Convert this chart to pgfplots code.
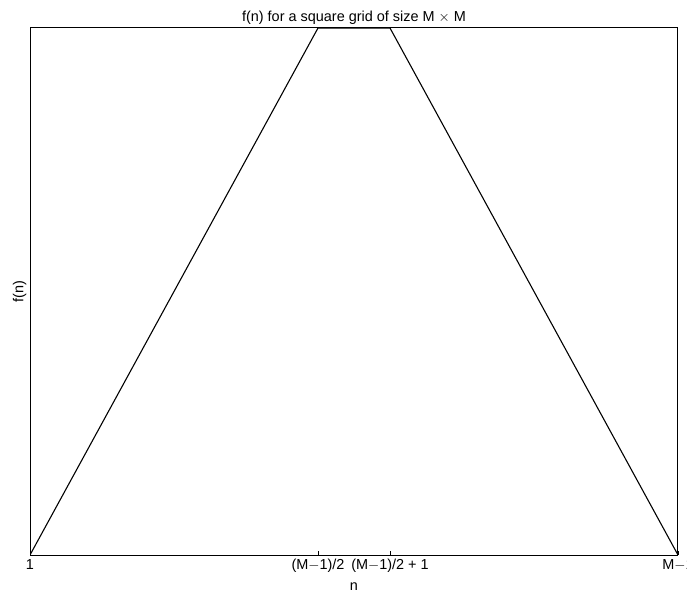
\documentclass[border=0pt]{standalone}
\usepackage{pgfplots}
\pgfplotsset{compat=1.18}
\usepackage{fontspec}
\setmainfont{Liberation Sans}
\begin{document}
\begin{tikzpicture}
% fixed page frame; the last tick label runs off the right edge
\useasboundingbox (-30bp,-46bp) rectangle (657bp,555bp);
\begin{axis}[
  at={(0,0)}, anchor=south west,
  scale only axis,
  width=648bp, height=527bp,
  xmin=1, xmax=10, ymin=0, ymax=1,
  axis line style={line width=1pt},
  xtick={1,5,6,10},
  xticklabels={1,(M$-$1)/2,(M$-$1)/2 + 1,M$-$1},
  xtick pos=bottom,
  xtick align=inside,
  major tick length=4bp,
  ytick=\empty,
  tick style={black, line width=0.7pt},
  xticklabel style={font=\fontsize{14.5}{16}\selectfont, yshift=-1bp},
  title={f(n) for a square grid of size M $\times$ M},
  title style={font=\fontsize{14.5}{16}\selectfont, yshift=-6bp},
  xlabel={n},
  ylabel={f(n)},
  xlabel style={font=\fontsize{14.5}{16}\selectfont, yshift=-3bp},
  ylabel style={font=\fontsize{14.5}{16}\selectfont, yshift=0bp},
]
\addplot[black, line width=1.1pt] coordinates {(1,0) (5,1) (6,1) (10,0)};
\end{axis}
\end{tikzpicture}
\end{document}
